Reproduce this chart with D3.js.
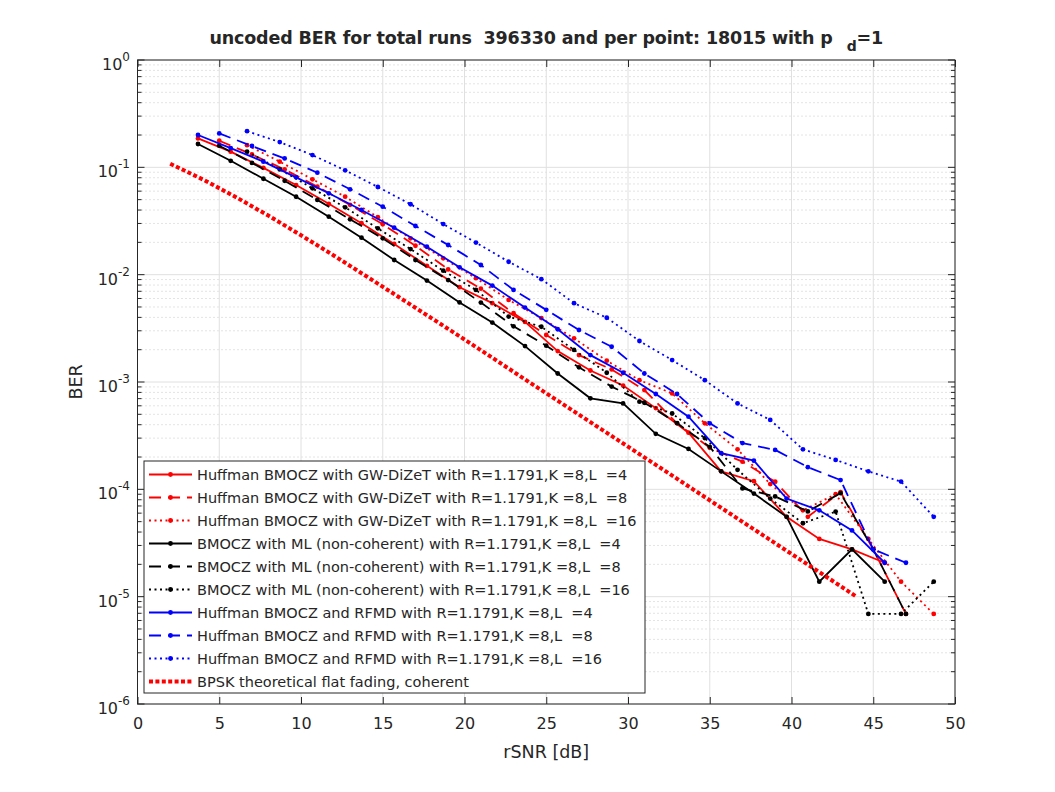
<!DOCTYPE html>
<html>
<head>
<meta charset="utf-8">
<script src="https://cdn.jsdelivr.net/npm/d3@7"></script>
<style>
body { margin: 0; background: #fff; }
text { font-family: "DejaVu Sans", sans-serif; fill: #262626; white-space: pre; }
</style>
</head>
<body>
<div id="chart"></div>
<script>

// rSNR grids (dB)
var snrL4 = [3.7, 5.7, 7.7, 9.7, 11.7, 13.7, 15.7, 17.7, 19.7, 21.7, 23.7, 25.7, 27.7, 29.7, 31.7, 33.7, 35.7, 37.7, 39.7, 41.7, 43.7, 45.7];
var snrL8 = [5.0, 7.0, 9.0, 11.0, 13.0, 15.0, 17.0, 19.0, 21.0, 23.0, 25.0, 27.0, 29.0, 31.0, 33.0, 35.0, 37.0, 39.0, 41.0, 43.0, 45.0, 47.0];
var snrL16 = [6.7, 8.7, 10.7, 12.7, 14.7, 16.7, 18.7, 20.7, 22.7, 24.7, 26.7, 28.7, 30.7, 32.7, 34.7, 36.7, 38.7, 40.7, 42.7, 44.7, 46.7, 48.7];
var snrBpsk = [2, 4, 6, 8, 10, 12, 14, 16, 18, 20, 22, 24, 26, 28, 30, 32, 34, 36, 38, 40, 42, 44];

// Huffman BMOCZ with GW-DiZeT
var berGwL4 = [0.186, 0.140, 0.0989, 0.0684, 0.0457, 0.0302, 0.0193, 0.0121, 0.00764, 0.00543, 0.00363, 0.00194, 0.00128, 0.000927, 0.000571, 0.000337, 0.000147, 0.000119, 5.55e-5, 3.45e-5, 2.76e-5, 2.07e-5];
var berGwL8 = [0.177, 0.132, 0.0955, 0.0661, 0.0447, 0.0295, 0.0186, 0.0112, 0.00741, 0.00437, 0.00274, 0.00178, 0.00131, 0.000841, 0.000412, 0.000244, 0.000181, 0.000118, 5.55e-5, 9.42e-5, 2.76e-5, 6.9e-6];
var berGwL16 = [0.161, 0.113, 0.0773, 0.0533, 0.0343, 0.0218, 0.0142, 0.00927, 0.00582, 0.00394, 0.00255, 0.00158, 0.00104, 0.000783, 0.000412, 0.000236, 0.000112, 6.37e-5, 9.0e-5, 3.45e-5, 1.38e-5, 6.9e-6];

// BMOCZ with ML (non-coherent)
var berMlL4 = [0.165, 0.115, 0.0783, 0.0532, 0.0347, 0.0221, 0.0137, 0.00881, 0.00551, 0.00358, 0.00216, 0.00120, 0.000705, 0.000632, 0.000329, 0.000238, 0.000147, 9.14e-5, 5.55e-5, 1.38e-5, 2.76e-5, 1.38e-5];
var berMlL8 = [0.159, 0.110, 0.0750, 0.0497, 0.0328, 0.0218, 0.0137, 0.00891, 0.00550, 0.00330, 0.00218, 0.00137, 0.000906, 0.000641, 0.000414, 0.000249, 0.000102, 8.59e-5, 6.22e-5, 9.2e-5, 2.76e-5, 6.9e-6];
var berMlL16 = [0.140, 0.0957, 0.0637, 0.0424, 0.0270, 0.0173, 0.0109, 0.00721, 0.00407, 0.00327, 0.00199, 0.00122, 0.000655, 0.000509, 0.000300, 0.000152, 8.2e-5, 4.83e-5, 6.2e-5, 6.9e-6, 6.9e-6, 1.38e-5];

// Huffman BMOCZ and RFMD
var berRfL4 = [0.200, 0.151, 0.113, 0.0807, 0.0573, 0.0401, 0.0274, 0.0182, 0.0117, 0.00791, 0.00494, 0.00310, 0.00178, 0.00122, 0.000773, 0.000475, 0.000217, 0.000185, 8.2e-5, 6.37e-5, 4.14e-5, 2.07e-5];
var berRfL8 = [0.207, 0.158, 0.121, 0.0891, 0.0624, 0.0430, 0.0284, 0.0189, 0.0123, 0.00721, 0.00470, 0.00305, 0.00213, 0.00120, 0.000773, 0.000412, 0.000270, 0.000233, 0.000161, 0.000122, 2.76e-5, 2.07e-5];
var berRfL16 = [0.217, 0.172, 0.130, 0.0938, 0.0656, 0.0453, 0.0296, 0.0199, 0.0132, 0.00908, 0.00542, 0.00397, 0.00241, 0.00160, 0.00104, 0.000632, 0.000443, 0.000236, 0.000188, 0.000147, 0.000118, 5.55e-5];

// BPSK theoretical flat fading, coherent
var berBpsk = [0.108, 0.0771, 0.0530, 0.0355, 0.0233, 0.0151, 0.00966, 0.00616, 0.00392, 0.00249, 0.00157, 0.000987, 0.000625, 0.000395, 0.000250, 0.000158, 9.95e-5, 6.28e-5, 3.96e-5, 2.50e-5, 1.58e-5, 9.95e-6];

var legendNames = [
    "Huffman BMOCZ with GW-DiZeT with R=1.1791,K =8,L  =4",
    "Huffman BMOCZ with GW-DiZeT with R=1.1791,K =8,L  =8",
    "Huffman BMOCZ with GW-DiZeT with R=1.1791,K =8,L  =16",
    "BMOCZ with ML (non-coherent) with R=1.1791,K =8,L  =4",
    "BMOCZ with ML (non-coherent) with R=1.1791,K =8,L  =8",
    "BMOCZ with ML (non-coherent) with R=1.1791,K =8,L  =16",
    "Huffman BMOCZ and RFMD with R=1.1791,K =8,L  =4",
    "Huffman BMOCZ and RFMD with R=1.1791,K =8,L  =8",
    "Huffman BMOCZ and RFMD with R=1.1791,K =8,L  =16",
    "BPSK theoretical flat fading, coherent"
];

var xTicks = [0, 5, 10, 15, 20, 25, 30, 35, 40, 45, 50];
var yExponents = [0, -1, -2, -3, -4, -5, -6];

var solid = null, dashed = "12,7", dotted = "2,3.5";
var series = [
    {x: snrL4, y: berGwL4, color: "#ff0000", dash: solid},
    {x: snrL8, y: berGwL8, color: "#ff0000", dash: dashed},
    {x: snrL16, y: berGwL16, color: "#ff0000", dash: dotted},
    {x: snrL4, y: berMlL4, color: "#000000", dash: solid},
    {x: snrL8, y: berMlL8, color: "#000000", dash: dashed},
    {x: snrL16, y: berMlL16, color: "#000000", dash: dotted},
    {x: snrL4, y: berRfL4, color: "#0000ff", dash: solid},
    {x: snrL8, y: berRfL8, color: "#0000ff", dash: dashed},
    {x: snrL16, y: berRfL16, color: "#0000ff", dash: dotted},
    {x: snrBpsk, y: berBpsk, color: "#ff0000", dash: "4,2.4", width: 4, noMarker: true}
];

var W = 1055, H = 792;
var pL = 137.5, pR = 955, pT = 60, pB = 704;

var svg = d3.select("#chart")
    .append("svg")
    .attr("width", W)
    .attr("height", H);

var x = d3.scaleLinear().domain([0, 50]).range([pL, pR]);
var y = d3.scaleLog().domain([1e-6, 1]).range([pB, pT]);

svg.append("defs").append("clipPath")
    .attr("id", "plotclip")
    .append("rect")
    .attr("x", pL).attr("y", pT)
    .attr("width", pR - pL).attr("height", pB - pT);

// minor y grid (dotted)
var minorVals = [];
yExponents.forEach(function(e) {
    if (e === 0) return;
    for (var m = 2; m <= 9; m++) minorVals.push(m * Math.pow(10, e));
});
svg.selectAll(".ygridminor")
    .data(minorVals)
    .enter()
    .append("line")
    .attr("class", "ygridminor")
    .attr("x1", pL).attr("x2", pR)
    .attr("y1", function(d) { return y(d); })
    .attr("y2", function(d) { return y(d); })
    .attr("stroke", "#c8c8c8")
    .attr("stroke-width", 1)
    .attr("stroke-dasharray", "1,3");

// major grid
svg.selectAll(".xgrid")
    .data(xTicks)
    .enter()
    .append("line")
    .attr("x1", function(d) { return x(d); })
    .attr("x2", function(d) { return x(d); })
    .attr("y1", pT).attr("y2", pB)
    .attr("stroke", "#e0e0e0")
    .attr("stroke-width", 1);

svg.selectAll(".ygrid")
    .data(yExponents)
    .enter()
    .append("line")
    .attr("x1", pL).attr("x2", pR)
    .attr("y1", function(d) { return y(Math.pow(10, d)); })
    .attr("y2", function(d) { return y(Math.pow(10, d)); })
    .attr("stroke", "#e0e0e0")
    .attr("stroke-width", 1);

// series
var plot = svg.append("g").attr("clip-path", "url(#plotclip)");
var line = d3.line()
    .x(function(d) { return x(d[0]); })
    .y(function(d) { return y(d[1]); });

series.forEach(function(s) {
    var pts = s.x.map(function(v, i) { return [v, s.y[i]]; });
    plot.append("path")
        .datum(pts)
        .attr("d", line)
        .attr("fill", "none")
        .attr("stroke", s.color)
        .attr("stroke-width", s.width || 1.8)
        .attr("stroke-dasharray", s.dash);
    if (!s.noMarker) {
        plot.selectAll(null)
            .data(pts)
            .enter()
            .append("circle")
            .attr("cx", function(d) { return x(d[0]); })
            .attr("cy", function(d) { return y(d[1]); })
            .attr("r", 2.4)
            .attr("fill", s.color);
    }
});

// axes box and ticks
var axisColor = "#262626";
svg.append("rect")
    .attr("x", pL).attr("y", pT)
    .attr("width", pR - pL).attr("height", pB - pT)
    .attr("fill", "none")
    .attr("stroke", axisColor)
    .attr("stroke-width", 1);

var xAxisB = d3.axisBottom(x).tickValues(xTicks).tickSizeInner(-7).tickSizeOuter(0).tickPadding(14);
var gx = svg.append("g").attr("transform", "translate(0," + pB + ")").call(xAxisB);
gx.select(".domain").remove();
gx.selectAll("line").attr("stroke", axisColor);
gx.selectAll("text")
    .attr("font-family", "DejaVu Sans")
    .attr("font-size", 16)
    .attr("fill", axisColor);

var xAxisT = d3.axisTop(x).tickValues(xTicks).tickSizeInner(-7).tickSizeOuter(0).tickFormat("");
var gxt = svg.append("g").attr("transform", "translate(0," + pT + ")").call(xAxisT);
gxt.select(".domain").remove();
gxt.selectAll("line").attr("stroke", axisColor);

// y ticks major + minor, left and right
[pL, pR].forEach(function(px) {
    var dir = px === pL ? 1 : -1;
    svg.selectAll(null)
        .data(yExponents)
        .enter()
        .append("line")
        .attr("x1", px).attr("x2", px + dir * 7)
        .attr("y1", function(d) { return y(Math.pow(10, d)); })
        .attr("y2", function(d) { return y(Math.pow(10, d)); })
        .attr("stroke", axisColor);
    svg.selectAll(null)
        .data(minorVals)
        .enter()
        .append("line")
        .attr("x1", px).attr("x2", px + dir * 4)
        .attr("y1", function(d) { return y(d); })
        .attr("y2", function(d) { return y(d); })
        .attr("stroke", axisColor);
});

// y tick labels 10^e
var yl = svg.selectAll(".ylab")
    .data(yExponents)
    .enter()
    .append("text")
    .attr("class", "ylab")
    .attr("x", 130)
    .attr("y", function(d) { return y(Math.pow(10, d)) + 10; })
    .attr("text-anchor", "end")
    .attr("font-size", 16)
    .attr("fill", axisColor);
yl.append("tspan").text("10");
yl.append("tspan")
    .attr("dy", -9)
    .attr("font-size", 12)
    .text(function(d) { return d === 0 ? "0" : "-" + Math.abs(d); });

// axis labels
svg.append("text")
    .attr("x", (pL + pR) / 2)
    .attr("y", 758)
    .attr("text-anchor", "middle")
    .attr("font-size", 17.5)
    .attr("fill", axisColor)
    .text("rSNR [dB]");

svg.append("text")
    .attr("transform", "translate(82," + ((pT + pB) / 2) + ") rotate(-90)")
    .attr("text-anchor", "middle")
    .attr("font-size", 17.5)
    .attr("fill", axisColor)
    .text("BER");

// title
var title = svg.append("text")
    .attr("x", (pL + pR) / 2)
    .attr("y", 44)
    .attr("text-anchor", "middle")
    .attr("font-size", 17.5)
    .attr("font-weight", "bold")
    .attr("letter-spacing", -0.15)
    .attr("fill", "#000");
title.append("tspan").text("uncoded BER for total runs  396330 and per point: 18015 with p");
title.append("tspan").attr("dx", 14).attr("dy", 7).attr("font-size", 14).text("d");
title.append("tspan").attr("dy", -7).text("=1");

// legend
var lgX = 144, lgY = 461, lgW = 501, lgH = 232, rowH = 23;
var lg = svg.append("g");
lg.append("rect")
    .attr("x", lgX).attr("y", lgY)
    .attr("width", lgW).attr("height", lgH)
    .attr("fill", "#fff")
    .attr("stroke", axisColor)
    .attr("stroke-width", 1);

var rows = lg.selectAll(".lrow")
    .data(series)
    .enter()
    .append("g")
    .attr("transform", function(d, i) { return "translate(0," + (lgY + 13.5 + i * rowH) + ")"; });

rows.append("line")
    .attr("x1", 149).attr("x2", 192)
    .attr("y1", 0).attr("y2", 0)
    .attr("stroke", function(d) { return d.color; })
    .attr("stroke-width", function(d) { return d.width || 1.8; })
    .attr("stroke-dasharray", function(d) { return d.dash; });

rows.filter(function(d) { return !d.noMarker; })
    .append("circle")
    .attr("cx", 170.5).attr("cy", 0).attr("r", 2.4)
    .attr("fill", function(d) { return d.color; });

rows.append("text")
    .attr("x", 197)
    .attr("y", 5.5)
    .attr("font-size", 14.5)
    .attr("fill", "#000")
    .text(function(d, i) { return legendNames[i]; });

</script>
</body>
</html>
